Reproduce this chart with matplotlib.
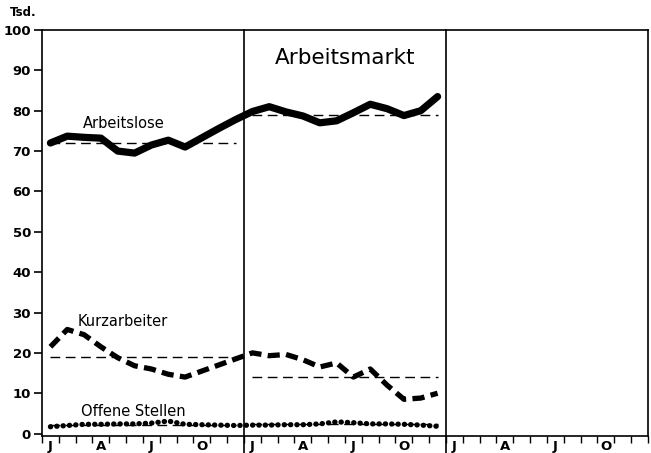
import matplotlib
matplotlib.use("Agg")
import matplotlib.pyplot as plt
import numpy as np

# monthly values (Tsd.), two years, month centres
arbeitslose = [72, 73.7, 73.4, 73.2, 70, 69.5, 71.5, 72.7, 71, 73.3, 75.6, 77.8,
               79.8, 81, 79.7, 78.7, 77, 77.5, 79.5, 81.6, 80.5, 78.8, 80, 83.5]
kurzarbeiter = [21.5, 25.8, 24.5, 21.5, 18.8, 16.8, 16, 14.7, 14, 15.5, 17, 18.5,
                20, 19.3, 19.6, 18.3, 16.5, 17.5, 14, 16, 12, 8.5, 8.8, 10]
offene_stellen = [1.7, 2.0, 2.3, 2.3, 2.4, 2.4, 2.6, 3.1, 2.3, 2.2, 2.1, 2.0,
                  2.1, 2.1, 2.2, 2.2, 2.4, 2.9, 2.7, 2.4, 2.4, 2.3, 2.1, 1.8]

# yearly averages (dashed lines)
avg_arbeitslose = [72, 79]
avg_kurzarbeiter = [19, 14]
avg_offene = [2.2, 2.4]

month_labels = ["J", "A", "J", "O"]
n_years = 3

plt.rcParams["font.family"] = "DejaVu Sans"

fig = plt.figure(figsize=(6.51, 4.53), dpi=100)
ax = fig.add_axes([42 / 651, 17 / 453, 606 / 651, 406 / 453])

x = np.arange(len(arbeitslose)) + 0.5

# averages per year
for i in range(len(avg_arbeitslose)):
    xs = [i * 12 + 0.5, i * 12 + 11.5]
    for v in (avg_arbeitslose[i], avg_kurzarbeiter[i], avg_offene[i]):
        ax.plot(xs, [v, v], color="black", lw=1.0, linestyle=(0, (7, 4)))

ax.plot(x, arbeitslose, color="black", lw=5.2, solid_joinstyle="round",
        solid_capstyle="round")
ax.plot(x, kurzarbeiter, color="black", lw=3.8, linestyle=(0, (2.3, 1.2)),
        dash_capstyle="butt")
ax.plot(x, offene_stellen, color="black", lw=3.8, linestyle=(0, (0.05, 1.15)),
        dash_capstyle="round")

# year dividers
for yr in range(1, n_years):
    ax.axvline(yr * 12, ymin=-0.045, ymax=1, color="black", lw=1.2,
               clip_on=False)

ax.set_xlim(0, 12 * n_years)
ax.set_ylim(-0.6, 100)

ax.set_yticks(range(0, 101, 10))
ax.tick_params(axis="y", direction="out", length=6, width=1.2, labelsize=9.5,
               pad=2)
for lab in ax.get_yticklabels():
    lab.set_fontweight("bold")

ax.set_xticks([yr * 12 + m + 0.5 for yr in range(n_years) for m in (0, 3, 6, 9)])
ax.set_xticklabels(month_labels * n_years, fontsize=9.5, fontweight="bold")
ax.set_xticks(range(0, 12 * n_years + 1), minor=True)
ax.tick_params(axis="x", which="major", length=0, pad=3)
ax.tick_params(axis="x", which="minor", direction="out", length=5, width=1.0)

for s in ax.spines.values():
    s.set_linewidth(1.2)

ax.text(2.4, 76.8, "Arbeitslose", fontsize=10.5, va="center")
ax.text(2.1, 27.7, "Kurzarbeiter", fontsize=10.5, va="center")
ax.text(2.3, 5.5, "Offene Stellen", fontsize=10.5, va="center")
ax.text(18.0, 93, "Arbeitsmarkt", fontsize=15.5, ha="center", va="center")
fig.text(10 / 651, 1 - 12 / 453, "Tsd.", fontsize=8.5, va="center",
         fontweight="bold")

fig.savefig("out.png", dpi=100)
